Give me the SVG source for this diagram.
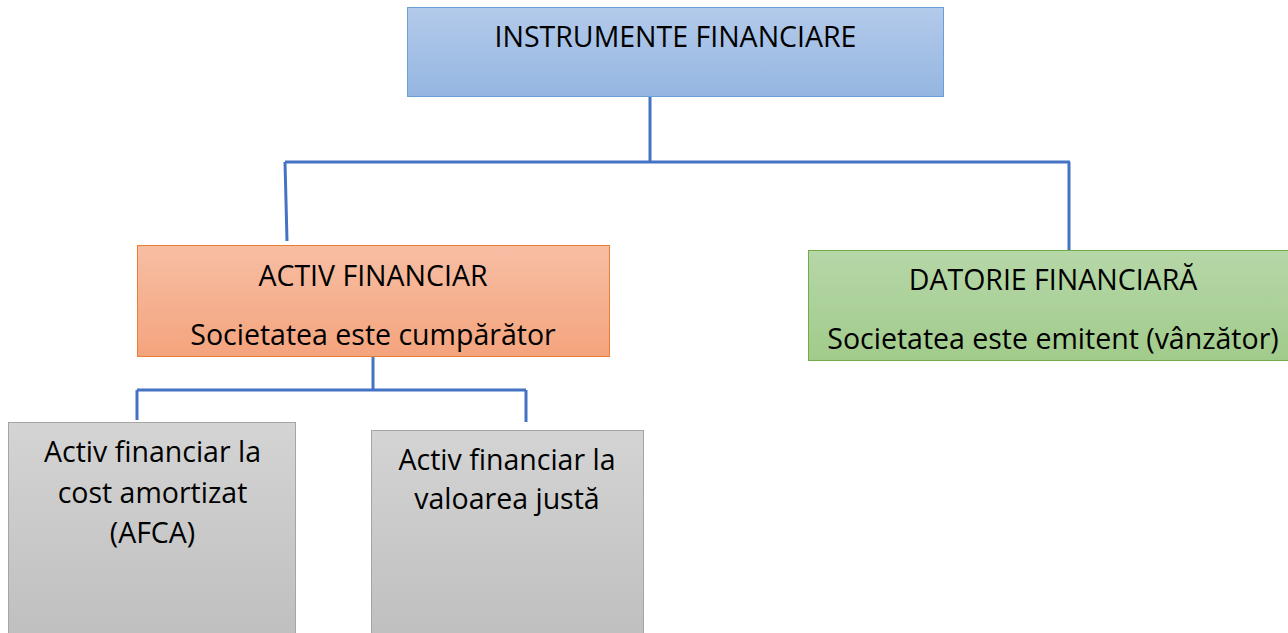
<svg xmlns="http://www.w3.org/2000/svg" width="1288" height="633" viewBox="0 0 1288 633">
<style>
text{font-family:"Open Sans","Liberation Sans",sans-serif;fill:#000;text-anchor:middle}
.t{font-size:28.5px}
.c{fill:none;stroke:#4472c4;stroke-width:3}
</style>
<defs>
<linearGradient id="gb" x1="0" y1="0" x2="0" y2="1"><stop offset="0" stop-color="#b3caea"/><stop offset="1" stop-color="#95b6e1"/></linearGradient>
<linearGradient id="go" x1="0" y1="0" x2="0" y2="1"><stop offset="0" stop-color="#f7bea4"/><stop offset="1" stop-color="#f4a47d"/></linearGradient>
<linearGradient id="gg" x1="0" y1="0" x2="0" y2="1"><stop offset="0" stop-color="#b6d7a8"/><stop offset="1" stop-color="#a1cb8b"/></linearGradient>
<linearGradient id="gy" x1="0" y1="0" x2="0" y2="1"><stop offset="0" stop-color="#d4d4d4"/><stop offset="1" stop-color="#bfbfbf"/></linearGradient>
</defs>
<g id="connectors">
<path class="c" d="M650 96V162M285 162H1070M285 162L287 241M1069 162V251"/>
<path class="c" d="M373 356V390M137 390H526M137 390V420M526 390V422"/>
</g>
<g id="instrumente">
<rect x="407.5" y="7.5" width="536" height="89" fill="url(#gb)" stroke="#6a9fd8" stroke-width="1"/>
<text class="t" x="675.5" y="47">INSTRUMENTE FINANCIARE</text>
</g>
<g id="activ">
<rect x="137.5" y="245.5" width="472" height="111" fill="url(#go)" stroke="#ed7d31" stroke-width="1"/>
<text class="t" x="373" y="286">ACTIV FINANCIAR</text>
<text class="t" x="373" y="345">Societatea este cumpărător</text>
</g>
<g id="datorie">
<rect x="808.5" y="250.5" width="482" height="110" fill="url(#gg)" stroke="#70ad47" stroke-width="1"/>
<text class="t" x="1053" y="290">DATORIE FINANCIARĂ</text>
<text class="t" x="1053" y="349">Societatea este emitent (vânzător)</text>
</g>
<g id="afca">
<rect x="8.5" y="422.5" width="287" height="215" fill="url(#gy)" stroke="#a5a5a5" stroke-width="1"/>
<text class="t" x="152.5" y="462">Activ financiar la</text>
<text class="t" x="152.5" y="503">cost amortizat</text>
<text class="t" x="152.5" y="543">(AFCA)</text>
</g>
<g id="justa">
<rect x="371.5" y="430.5" width="272" height="207" fill="url(#gy)" stroke="#a5a5a5" stroke-width="1"/>
<text class="t" x="507" y="470">Activ financiar la</text>
<text class="t" x="507" y="509">valoarea justă</text>
</g>
</svg>
